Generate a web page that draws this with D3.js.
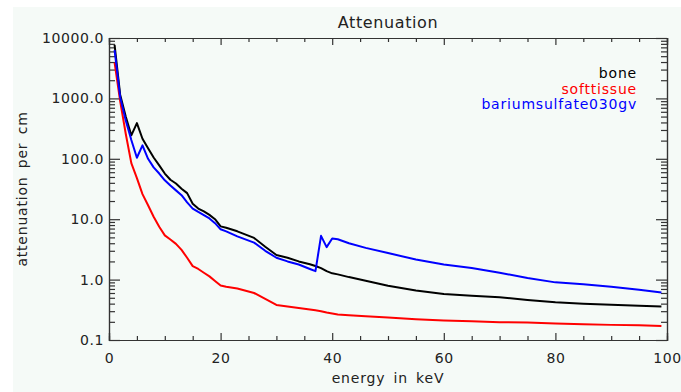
<!DOCTYPE html>
<html>
<head>
<meta charset="utf-8">
<script src="https://cdn.jsdelivr.net/npm/d3@7"></script>
<style>
  body { margin: 0; background: #ffffff; }
  text { font-family: "DejaVu Sans", sans-serif; fill: #222; }
</style>
</head>
<body>
<div id="chart"></div>
<script>
// energies in keV (shared by all series)
var energies = [1, 2, 3, 4, 5, 6, 7, 8, 9, 10, 11, 12, 13, 14, 15, 16, 17, 18, 19, 20, 21,
  23, 26, 28, 30, 32, 34, 36, 37, 38, 39, 40, 41, 43, 46, 50, 55, 60, 65, 70, 75, 80, 85, 90, 95, 99];

var bone = [7700, 1150, 500, 245, 390, 215, 150, 105, 78, 57, 45, 39, 32, 27, 18, 15, 13.5, 11.8, 10, 7.6, 7.2,
  6.3, 4.9, 3.5, 2.55, 2.3, 2.0, 1.8, 1.68, 1.55, 1.38, 1.27, 1.22, 1.1, 0.96, 0.79, 0.66, 0.58, 0.54, 0.51, 0.46, 0.42, 0.40, 0.385, 0.37, 0.36];

var softtissue = [3900, 900, 260, 85, 48, 26, 17, 11, 7.5, 5.4, 4.6, 3.9, 3.1, 2.3, 1.67, 1.5, 1.3, 1.13, 0.95, 0.8, 0.76,
  0.71, 0.6, 0.48, 0.38, 0.36, 0.34, 0.32, 0.31, 0.30, 0.285, 0.275, 0.265, 0.258, 0.248, 0.235, 0.22, 0.21, 0.205, 0.197, 0.194, 0.188, 0.182, 0.178, 0.175, 0.17];

var barium = [6300, 1050, 430, 205, 104, 167, 100, 72, 57, 44, 36, 30, 25, 19, 15, 13.2, 11.7, 10.3, 8.6, 6.8, 6.3,
  5.2, 4.1, 3.0, 2.3, 2.0, 1.78, 1.5, 1.38, 5.3, 3.45, 4.8, 4.65, 4.0, 3.35, 2.75, 2.15, 1.78, 1.55, 1.3, 1.06, 0.9, 0.84, 0.76, 0.68, 0.61];

var seriesNames = ["bone", "softtissue", "bariumsulfate030gv"];
var seriesColors = ["#000000", "#ff0000", "#0000ff"];

var xMajor = [0, 20, 40, 60, 80, 100];
var yMajor = [0.1, 1, 10, 100, 1000, 10000];

var margin = { top: 38, right: 14, bottom: 52, left: 109 },
  width = 681 - margin.left - margin.right,
  height = 392 - margin.top - margin.bottom;

var root = d3.select("#chart")
  .append("svg")
  .attr("width", 681)
  .attr("height", 392);

// pale panel behind everything
root.append("rect")
  .attr("x", 13).attr("y", 7)
  .attr("width", 681 - 13).attr("height", 392 - 7)
  .attr("fill", "#f5faf7");

var svg = root.append("g")
  .attr("transform", "translate(" + margin.left + "," + margin.top + ")");

var x = d3.scaleLinear().domain([0, 100]).range([0, width]);
var y = d3.scaleLog().domain([0.1, 10000]).range([height, 0]);

// minor ticks
var xMinor = d3.range(0, 101, 5).filter(function (d) { return d % 20 != 0; });
var yMinor = [];
yMajor.slice(0, -1).forEach(function (d) {
  for (var k = 2; k < 10; k++) yMinor.push(d * k);
});

function styleAxis(g) {
  g.select(".domain").attr("stroke", "#333").attr("stroke-width", 1.2);
  g.selectAll(".tick line").attr("stroke", "#333").attr("stroke-width", 1.2);
  g.selectAll(".tick text").style("font-size", "14px").style("letter-spacing", "0.6px").attr("fill", "#222");
}

// bottom
svg.append("g")
  .attr("transform", "translate(0," + height + ")")
  .call(d3.axisBottom(x).tickValues(xMinor).tickSize(-4).tickFormat(""))
  .call(styleAxis);
svg.append("g")
  .attr("transform", "translate(0," + height + ")")
  .call(d3.axisBottom(x).tickValues(xMajor).tickSize(-7).tickPadding(13).tickFormat(d3.format("d")))
  .call(styleAxis);
// top (mirror)
svg.append("g")
  .call(d3.axisTop(x).tickValues(xMinor).tickSize(-4).tickFormat(""))
  .call(styleAxis);
svg.append("g")
  .call(d3.axisTop(x).tickValues(xMajor).tickSize(-7).tickFormat(""))
  .call(styleAxis);
// left
svg.append("g")
  .call(d3.axisLeft(y).tickValues(yMinor).tickSize(-6).tickFormat(""))
  .call(styleAxis);
svg.append("g")
  .call(d3.axisLeft(y).tickValues(yMajor).tickSize(-11).tickPadding(5).tickFormat(d3.format(".1f")))
  .call(styleAxis);
// right (mirror)
svg.append("g")
  .attr("transform", "translate(" + width + ",0)")
  .call(d3.axisRight(y).tickValues(yMinor).tickSize(-6).tickFormat(""))
  .call(styleAxis);
svg.append("g")
  .attr("transform", "translate(" + width + ",0)")
  .call(d3.axisRight(y).tickValues(yMajor).tickSize(-11).tickFormat(""))
  .call(styleAxis);

// curves
var line = d3.line()
  .x(function (d) { return x(d[0]); })
  .y(function (d) { return y(d[1]); });

var allSeries = [bone, softtissue, barium];
allSeries.forEach(function (vals, i) {
  svg.append("path")
    .datum(energies.map(function (e, j) { return [e, vals[j]]; }))
    .attr("fill", "none")
    .attr("stroke", seriesColors[i])
    .attr("stroke-width", 2)
    .attr("stroke-linejoin", "round")
    .attr("d", line);
});

// legend, right aligned
var legend = svg.append("g").attr("class", "legend");
legend.selectAll("text")
  .data(seriesNames)
  .enter().append("text")
  .attr("x", 637 - margin.left)
  .attr("y", function (d, i) { return 78 - margin.top + i * 15.5; })
  .attr("text-anchor", "end")
  .style("font-size", "14px")
  .style("letter-spacing", "0.8px")
  .style("fill", function (d, i) { return seriesColors[i]; })
  .text(function (d) { return d; });

// title and axis labels
svg.append("text")
  .attr("x", width / 2)
  .attr("y", 28 - margin.top)
  .attr("text-anchor", "middle")
  .style("font-size", "16px")
  .style("letter-spacing", "0.6px")
  .text("Attenuation");

svg.append("text")
  .attr("x", width / 2)
  .attr("y", 383 - margin.top)
  .attr("text-anchor", "middle")
  .style("font-size", "14px")
  .style("letter-spacing", "0.8px")
  .style("word-spacing", "3px")
  .text("energy in keV");

svg.append("text")
  .attr("transform", "rotate(-90)")
  .attr("x", -height / 2)
  .attr("y", 27 - margin.left)
  .attr("text-anchor", "middle")
  .style("font-size", "14px")
  .style("letter-spacing", "0.8px")
  .style("word-spacing", "3px")
  .text("attenuation per cm");
</script>
</body>
</html>
